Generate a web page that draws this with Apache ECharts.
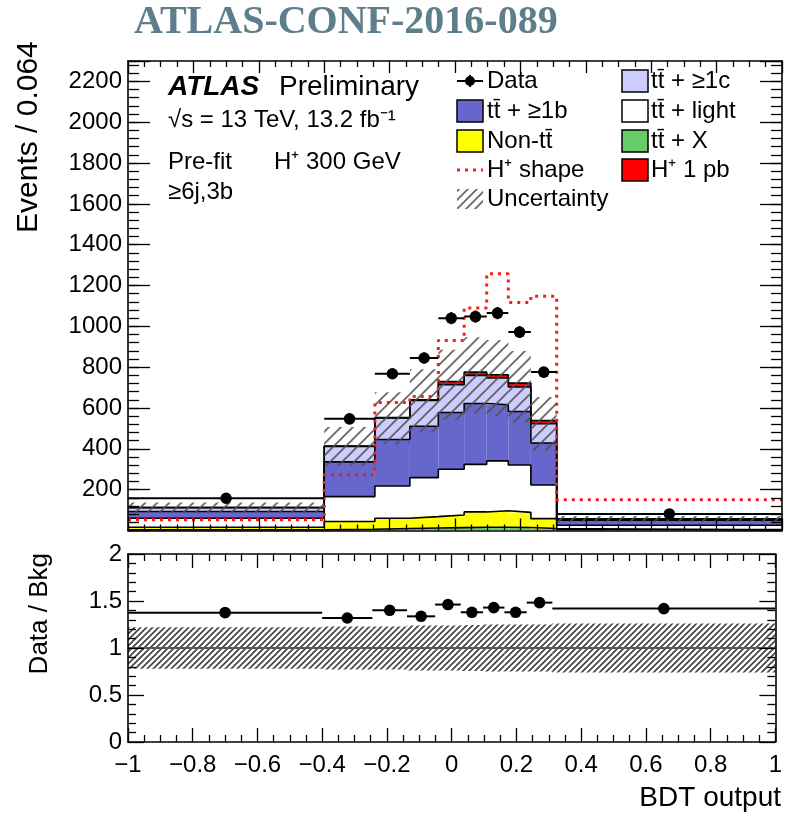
<!DOCTYPE html>
<html>
<head>
<meta charset="utf-8">
<script src="https://cdn.jsdelivr.net/npm/echarts@6/dist/echarts.min.js"></script>
<style>
  html, body { margin: 0; padding: 0; background: #fff; }
  #chart { width: 785px; height: 814px; }
</style>
</head>
<body>
<div id="chart"></div>
<script>
// Bin edges of the BDT output histogram
const binEdges = [-1, -0.4, -0.245, -0.138, -0.051, 0.028, 0.097, 0.163, 0.232, 0.311, 1];

// Stacked background components (events / 0.064), bottom to top
const ttX      = [3, 6, 10, 12, 14, 16, 16, 15, 10, 2];
const nonTT    = [13, 38, 50, 56, 62, 75, 81, 74, 48, 3];
const ttLight  = [44, 122, 158, 191, 224, 233, 244, 232, 165, 21];
const tt1b     = [33, 170, 228, 252, 278, 298, 275, 262, 206, 25];
const tt1c     = [19, 76, 105, 126, 136, 138, 131, 120, 94, 5];
const hplus1pb = [1, 2, 2, 3, 16, 16, 16, 19, 16, 1];

// Normalised H+ signal shape
const hplusShape = [53, 273, 627, 657, 931, 1090, 1258, 1117, 1147, 151];

// Observed data and its statistical errors
const dataCounts = [158, 547, 768, 845, 1040, 1048, 1065, 972, 776, 81];
const dataErr    = [4, 18, 23, 27, 30, 30, 30, 29, 25, 2];

// Relative background uncertainty per bin
const relUnc = [0.22, 0.23, 0.23, 0.24, 0.24, 0.245, 0.25, 0.25, 0.25, 0.26];

// Data / background ratio
const ratioVals = [1.376, 1.319, 1.401, 1.337, 1.462, 1.38, 1.43, 1.38, 1.483, 1.419];
const ratioErr  = [0.03, 0.045, 0.04, 0.045, 0.045, 0.04, 0.04, 0.04, 0.05, 0.04];

// Axis ranges
const xRange = [-1, 1];
const yRangeMain = [0, 2300];
const yRangeRatio = [0, 2];

const FONT = '"Liberation Sans", Arial, Helvetica, sans-serif';
const nBins = binEdges.length - 1;

function hatchCanvas(size, lw, color) {
  const c = document.createElement('canvas');
  c.width = size; c.height = size;
  const g = c.getContext('2d');
  g.strokeStyle = color; g.lineWidth = lw; g.lineCap = 'square';
  g.beginPath();
  g.moveTo(0, size); g.lineTo(size, 0);
  g.moveTo(-size / 2, size / 2); g.lineTo(size / 2, -size / 2);
  g.moveTo(size / 2, size * 1.5); g.lineTo(size * 1.5, size / 2);
  g.stroke();
  return c;
}
const hatchMain = { image: hatchCanvas(12, 1.9, 'rgba(80,80,80,0.85)'), repeat: 'repeat' };
const hatchRatio = { image: hatchCanvas(6, 1.6, 'rgba(55,55,55,0.95)'), repeat: 'repeat' };
const hatchLegend = { image: hatchCanvas(9, 1.9, 'rgba(80,80,80,0.85)'), repeat: 'repeat' };

function rectRenderer(fill) {
  return function (params, api) {
    const p0 = api.coord([api.value(0), api.value(3)]);
    const p1 = api.coord([api.value(1), api.value(2)]);
    return {
      type: 'rect',
      shape: { x: p0[0], y: p0[1], width: p1[0] - p0[0], height: p1[1] - p0[1] },
      style: { fill: fill, stroke: null }
    };
  };
}

function pointRenderer(params, api) {
  const x0 = api.value(0), x1 = api.value(1), y = api.value(2), e = api.value(3);
  const xc = (x0 + x1) / 2;
  const a = api.coord([x0, y]), b = api.coord([x1, y]);
  const c = api.coord([xc, y]);
  const t = api.coord([xc, y + e]), d = api.coord([xc, y - e]);
  return {
    type: 'group',
    children: [
      { type: 'line', shape: { x1: a[0], y1: a[1], x2: b[0], y2: b[1] }, style: { stroke: '#000', lineWidth: 2 } },
      { type: 'line', shape: { x1: c[0], y1: t[1], x2: c[0], y2: d[1] }, style: { stroke: '#000', lineWidth: 2 } },
      { type: 'circle', shape: { cx: c[0], cy: c[1], r: 5.8 }, style: { fill: '#000' } }
    ]
  };
}

function stepPoints(vals) {
  return binEdges.map((e, i) => [e, vals[Math.min(i, vals.length - 1)]]);
}

const stackOrder = [
  { vals: ttX, color: '#66cc66' },
  { vals: nonTT, color: '#ffff00' },
  { vals: ttLight, color: '#ffffff' },
  { vals: tt1b, color: '#6666cc' },
  { vals: tt1c, color: '#ccccff' },
  { vals: hplus1pb, color: '#ff0000' }
];

const series = [];
let base = new Array(nBins).fill(0);
let bkgTotal = null;
stackOrder.forEach((comp, k) => {
  const top = base.map((b, i) => b + comp.vals[i]);
  series.push({
    type: 'custom', xAxisIndex: 0, yAxisIndex: 0, z: 2, clip: true, silent: true,
    encode: { x: [0, 1], y: [2, 3] },
    data: base.map((b, i) => [binEdges[i], binEdges[i + 1], b, top[i]]),
    renderItem: rectRenderer(comp.color)
  });
  series.push({
    type: 'line', xAxisIndex: 0, yAxisIndex: 0, z: 3, step: 'end', symbol: 'none',
    clip: true, silent: true, data: stepPoints(top),
    lineStyle: { color: '#000', width: 1.6 }
  });
  if (k === 4) bkgTotal = top.slice();
  base = top;
});

// Background uncertainty band
series.push({
  type: 'custom', xAxisIndex: 0, yAxisIndex: 0, z: 4, clip: true, silent: true,
  encode: { x: [0, 1], y: [2, 3] },
  data: bkgTotal.map((t, i) => [binEdges[i], binEdges[i + 1], t * (1 - relUnc[i]), t * (1 + relUnc[i])]),
  renderItem: rectRenderer(hatchMain)
});

// H+ shape, dotted
series.push({
  type: 'line', xAxisIndex: 0, yAxisIndex: 0, z: 5, step: 'end', symbol: 'none',
  clip: true, silent: true, data: stepPoints(hplusShape),
  lineStyle: { color: '#ff1a1a', width: 3, type: [3, 5] }
});

// Data points
series.push({
  type: 'custom', xAxisIndex: 0, yAxisIndex: 0, z: 6, clip: true, silent: true,
  encode: { x: [0, 1], y: 2 },
  data: dataCounts.map((v, i) => [binEdges[i], binEdges[i + 1], v, dataErr[i]]),
  renderItem: pointRenderer
});

// Ratio panel: uncertainty band and unity line
series.push({
  type: 'custom', xAxisIndex: 2, yAxisIndex: 2, z: 2, clip: true, silent: true,
  encode: { x: [0, 1], y: [2, 3] },
  data: relUnc.map((u, i) => [binEdges[i], binEdges[i + 1], 1 - u, 1 + u]),
  renderItem: rectRenderer(hatchRatio),
  markLine: {
    silent: true, symbol: 'none', label: { show: false }, animation: false,
    lineStyle: { color: '#555', width: 2, type: 'solid' },
    data: [{ yAxis: 1 }]
  }
});

// Ratio points
series.push({
  type: 'custom', xAxisIndex: 2, yAxisIndex: 2, z: 6, clip: true, silent: true,
  encode: { x: [0, 1], y: 2 },
  data: ratioVals.map((v, i) => [binEdges[i], binEdges[i + 1], v, ratioErr[i]]),
  renderItem: pointRenderer
});

const frameLine = { show: true, onZero: false, lineStyle: { color: '#000', width: 1.6 } };
const tickStyle = { color: '#000', width: 1.3 };

function xAxisDef(grid, pos, withLabels, major, minor) {
  return {
    type: 'value', gridIndex: grid, position: pos, min: xRange[0], max: xRange[1], interval: 0.2, z: 10,
    axisLine: frameLine, splitLine: { show: false },
    axisTick: { show: true, inside: true, length: major, lineStyle: tickStyle },
    minorTick: { show: true, splitNumber: 4, length: minor, lineStyle: tickStyle },
    axisLabel: withLabels ? {
      show: true, margin: 11, fontSize: 24, fontFamily: FONT, color: '#000',
      formatter: function (v) {
        const r = Math.round(v * 10) / 10;
        return (r < 0 ? '\u2212' : '') + String(Math.abs(r));
      }
    } : { show: false }
  };
}

function yAxisDef(grid, pos, range, interval, major, opts) {
  return Object.assign({
    type: 'value', gridIndex: grid, position: pos, min: range[0], max: range[1], interval: interval, z: 10,
    axisLine: frameLine, splitLine: { show: false },
    axisTick: { show: true, inside: true, length: major, lineStyle: tickStyle },
    minorTick: { show: false },
    axisLabel: { show: false }
  }, opts || {});
}

function txt(x, y, s, font, align) {
  return {
    type: 'text', x: x, y: y, z: 100, silent: true,
    style: { text: s, font: font, fill: '#000', align: align || 'left', verticalAlign: 'middle' }
  };
}

function box(x, cy, fill) {
  return {
    type: 'rect', z: 100, silent: true,
    shape: { x: x, y: cy - 11, width: 26, height: 22 },
    style: { fill: fill, stroke: '#000', lineWidth: 1.5 }
  };
}

function buildGraphics() {
  const f24 = '24px ' + FONT;
  const tt = 'tt\u0304';
  const rows = [81, 111, 141, 170, 199];
  const c1 = 457, c2 = 622, t1 = 487, t2 = 651;
  const g = [];

  const title = txt(134, 23, 'ATLAS-CONF-2016-089', 'bold 40px "Liberation Serif", "Times New Roman", serif');
  title.style.fill = '#5e7e8b';
  g.push(title);

  // Axis titles
  g.push({ type: 'text', x: 29, y: 233, rotation: Math.PI / 2, z: 100, silent: true,
    style: { text: 'Events / 0.064', font: '30px ' + FONT, fill: '#000', align: 'left', verticalAlign: 'middle' } });
  g.push({ type: 'text', x: 40, y: 553, rotation: Math.PI / 2, z: 100, silent: true,
    style: { text: 'Data / Bkg', font: '26px ' + FONT, fill: '#000', align: 'right', verticalAlign: 'middle' } });
  g.push(txt(781, 798, 'BDT output', '28px ' + FONT, 'right'));

  // Experiment label and selection
  g.push(txt(168, 87, 'ATLAS', 'italic bold 28px ' + FONT));
  g.push(txt(279, 87, 'Preliminary', '28px ' + FONT));
  g.push(txt(168, 120, '\u221As = 13 TeV, 13.2 fb\u207B\u00B9', f24));
  g.push(txt(168, 162, 'Pre-fit', f24));
  g.push(txt(274, 162, 'H\u207A 300 GeV', f24));
  g.push(txt(168, 192, '\u22656j,3b', f24));

  // Legend, first column
  g.push({ type: 'line', z: 100, silent: true, shape: { x1: c1, y1: rows[0], x2: c1 + 26, y2: rows[0] }, style: { stroke: '#000', lineWidth: 2 } });
  g.push({ type: 'line', z: 100, silent: true, shape: { x1: c1 + 13, y1: rows[0] - 6, x2: c1 + 13, y2: rows[0] + 6 }, style: { stroke: '#000', lineWidth: 2 } });
  g.push({ type: 'circle', z: 100, silent: true, shape: { cx: c1 + 13, cy: rows[0], r: 5 }, style: { fill: '#000' } });
  g.push(txt(t1, rows[0], 'Data', f24));
  g.push(box(c1, rows[1], '#6666cc'));
  g.push(txt(t1, rows[1], tt + ' + \u22651b', f24));
  g.push(box(c1, rows[2], '#ffff00'));
  g.push(txt(t1, rows[2], 'Non-' + tt, f24));
  g.push({ type: 'line', z: 100, silent: true, shape: { x1: c1, y1: rows[3], x2: c1 + 26, y2: rows[3] }, style: { stroke: '#ff1a1a', lineWidth: 3, lineDash: [3, 5] } });
  g.push(txt(t1, rows[3], 'H\u207A shape', f24));
  g.push({ type: 'rect', z: 100, silent: true, shape: { x: c1, y: rows[4] - 10, width: 26, height: 20 }, style: { fill: hatchLegend } });
  g.push(txt(t1, rows[4], 'Uncertainty', f24));

  // Legend, second column
  g.push(box(c2, rows[0], '#ccccff'));
  g.push(txt(t2, rows[0], tt + ' + \u22651c', f24));
  g.push(box(c2, rows[1], '#ffffff'));
  g.push(txt(t2, rows[1], tt + ' + light', f24));
  g.push(box(c2, rows[2], '#66cc66'));
  g.push(txt(t2, rows[2], tt + ' + X', f24));
  g.push(box(c2, rows[3], '#ff0000'));
  g.push(txt(t2, rows[3], 'H\u207A 1 pb', f24));
  return g;
}

const option = {
  animation: false,
  backgroundColor: '#fff',
  grid: [
    { left: 128, top: 61, width: 654, height: 469.5 },
    { left: 128, top: 554, width: 654, height: 188 }
  ],
  xAxis: [
    xAxisDef(0, 'bottom', false, 12, 6),
    xAxisDef(0, 'top', false, 12, 6),
    xAxisDef(1, 'bottom', true, 14, 7),
    xAxisDef(1, 'top', false, 14, 7)
  ],
  yAxis: [
    yAxisDef(0, 'left', yRangeMain, 200, 22, {
      axisLabel: {
        show: true, margin: 6, fontSize: 24, fontFamily: FONT, color: '#000',
        formatter: v => (v > 0 && v < yRangeMain[1]) ? String(v) : ''
      }
    }),
    yAxisDef(0, 'right', yRangeMain, 200, 22),
    yAxisDef(1, 'left', yRangeRatio, 0.5, 16, {
      minorTick: { show: true, splitNumber: 5, length: 8, lineStyle: tickStyle },
      axisLabel: {
        show: true, margin: 6, fontSize: 24, fontFamily: FONT, color: '#000',
        formatter: v => String(Math.round(v * 10) / 10)
      }
    }),
    yAxisDef(1, 'right', yRangeRatio, 0.5, 16, {
      minorTick: { show: true, splitNumber: 5, length: 8, lineStyle: tickStyle }
    }),
    // minor ticks of the main panel (every 40 events)
    yAxisDef(0, 'left', yRangeMain, 40, 11, { axisLine: { show: false, onZero: false } }),
    yAxisDef(0, 'right', yRangeMain, 40, 11, { axisLine: { show: false, onZero: false } })
  ],
  series: series,
  graphic: buildGraphics()
};

const chart = echarts.init(document.getElementById('chart'), null, { renderer: 'canvas' });
chart.setOption(option);
</script>
</body>
</html>
